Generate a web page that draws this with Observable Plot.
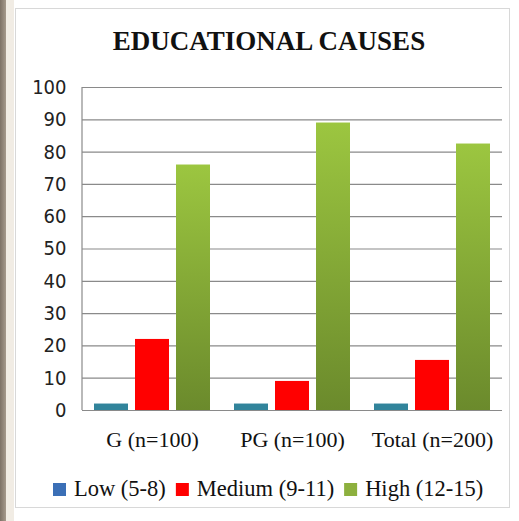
<!DOCTYPE html>
<html>
<head>
<meta charset="utf-8">
<script src="https://cdn.jsdelivr.net/npm/d3@7"></script>
<script src="https://cdn.jsdelivr.net/npm/@observablehq/plot@0.6"></script>
<style>
  html, body { margin: 0; padding: 0; background: #fff; }
  #page { position: relative; width: 519px; height: 521px; overflow: hidden; background: #fff; }
  #strip1 { position: absolute; left: 0; top: 0; width: 6px; height: 521px; background: linear-gradient(to right, #7d7266, #a69a8c); }
  #strip2 { position: absolute; left: 6px; top: 0; width: 8px; height: 521px; background: #f1ece4; }
  #box { position: absolute; left: 15px; top: 8px; width: 495px; height: 500px; border: 1px solid #d8d8d8; box-sizing: border-box; background: #fff; }
  #chart { position: absolute; left: 0; top: 0; }
  #titleSvg { position: absolute; left: 0; top: 0; }
  #legendSvg { position: absolute; left: 0; top: 462px; }
</style>
</head>
<body>
<div id="page">
  <div id="strip1"></div>
  <div id="strip2"></div>
  <div id="box"></div>
  <svg width="0" height="0" style="position:absolute">
    <defs>
      <linearGradient id="greenGrad" x1="0" y1="0" x2="0" y2="1">
        <stop offset="0%" stop-color="#9cc640"/>
        <stop offset="100%" stop-color="#6b8a2c"/>
      </linearGradient>
    </defs>
  </svg>
  <div id="chart"></div>
  <svg id="titleSvg" width="519" height="70">
    <text x="269" y="50" text-anchor="middle" font-family="Liberation Serif, Times New Roman, serif" font-weight="bold" font-size="27" fill="#111">EDUCATIONAL CAUSES</text>
  </svg>
  <svg id="legendSvg" width="519" height="50"></svg>
</div>
<script>
const groups = ["G (n=100)", "PG (n=100)", "Total (n=200)"];
const series = ["Low (5-8)", "Medium (9-11)", "High (12-15)"];
const lowValues = [2, 2, 2];
const mediumValues = [22, 9, 15.5];
const highValues = [76, 89, 82.5];
const yTicks = [0, 10, 20, 30, 40, 50, 60, 70, 80, 90, 100];
const barColors = ["#31849b", "#ff0000", "url(#greenGrad)"];
const legendColors = ["#3b6fb6", "#ff0000", "#8db03e"];

const valuesBySeries = [lowValues, mediumValues, highValues];
const data = [];
groups.forEach((g, gi) => {
  series.forEach((s, si) => {
    data.push({group: g, series: s, value: valuesBySeries[si][gi]});
  });
});

const chart = Plot.plot({
  width: 519,
  height: 462,
  marginTop: 87,
  marginLeft: 82,
  marginRight: 17,
  marginBottom: 52,
  style: { background: "transparent", overflow: "visible" },
  fx: { domain: groups, padding: 0, label: null },
  x: { domain: series, paddingInner: 0.17, paddingOuter: 0.28, axis: null },
  y: { domain: [0, 100], label: null },
  color: { domain: series, range: barColors },
  marks: [
    Plot.ruleY(yTicks, { stroke: "#8a8a8a", strokeWidth: 1.2, strokeOpacity: 1 }),
    Plot.barY(data, { fx: "group", x: "series", y: "value", fill: "series" }),
    Plot.axisY(yTicks, { tickSize: 0, tickPadding: 16, fontSize: 20, fontFamily: "DejaVu Sans Condensed, DejaVu Sans, sans-serif", fill: "#222", label: null }),
    Plot.axisFx({ anchor: "bottom", tickSize: 0, tickPadding: 21, fontSize: 22, fontFamily: "Liberation Serif, serif", fill: "#111", label: null })
  ]
});
document.getElementById("chart").appendChild(chart);

// left axis line, drawn from the y scale range at the left of the plot frame
const ys = chart.scale("y");
d3.select(chart).append("line")
  .attr("x1", 82).attr("x2", 82)
  .attr("y1", ys.range[0]).attr("y2", ys.range[1])
  .attr("stroke", "#8a8a8a").attr("stroke-width", 1.2);

// legend
const lg = d3.select("#legendSvg");
let lx = 53;
series.forEach((s, i) => {
  lg.append("rect").attr("x", lx).attr("y", 21).attr("width", 13).attr("height", 13).attr("fill", legendColors[i]);
  lx += 21;
  const t = lg.append("text").attr("x", lx).attr("y", 34)
    .attr("font-family", "Liberation Serif, Times New Roman, serif")
    .attr("font-size", 22.5).attr("fill", "#111").text(s);
  lx += t.node().getComputedTextLength() + 10;
});
</script>
</body>
</html>
